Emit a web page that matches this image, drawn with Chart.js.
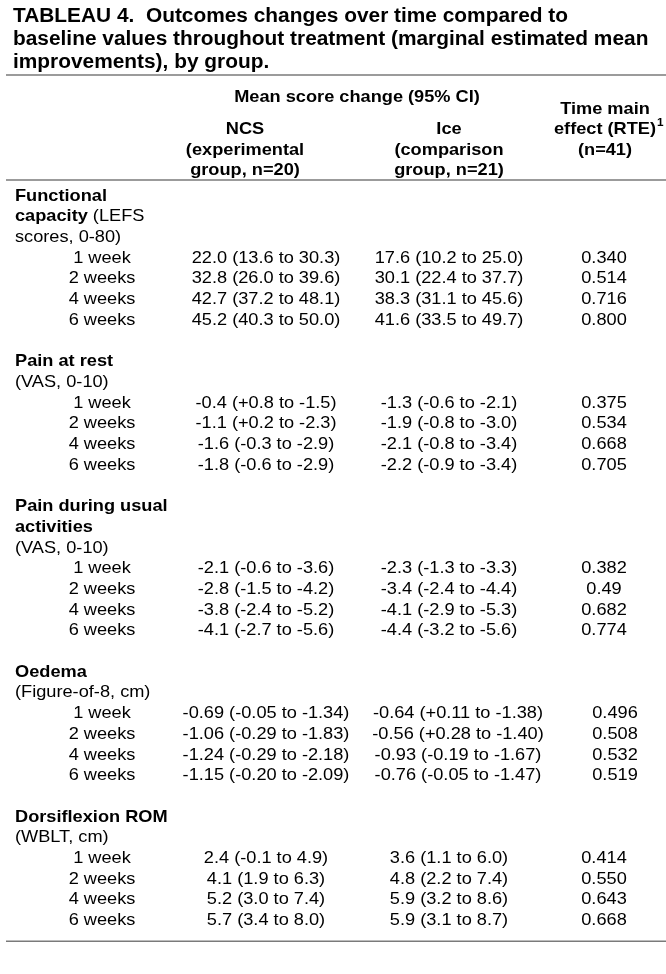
<!DOCTYPE html>
<html>
<head>
<meta charset="utf-8">
<title>Tableau 4</title>
<script src="https://cdn.jsdelivr.net/npm/chart.js@4.4.1/dist/chart.umd.min.js"></script>
<style>
  html, body { margin: 0; padding: 0; background: #fff; }
  #wrap { width: 666px; height: 974px; position: relative; }
</style>
</head>
<body>
<div id="wrap"><canvas id="tableChart"></canvas></div>
<script>
// ==========================
// Data (read off the table)
// ==========================
const timePoints = ["1 week", "2 weeks", "4 weeks", "6 weeks"];

// each outcome label line = [bold part, regular part]
const outcomeLabels = [
  [["Functional", ""], ["capacity", " (LEFS"], ["", "scores, 0-80)"]],
  [["Pain at rest", ""], ["", "(VAS, 0-10)"]],
  [["Pain during usual", ""], ["activities", ""], ["", "(VAS, 0-10)"]],
  [["Oedema", ""], ["", "(Figure-of-8, cm)"]],
  [["Dorsiflexion ROM", ""], ["", "(WBLT, cm)"]]
];

const ncsChange = [
  ["22.0 (13.6 to 30.3)", "32.8 (26.0 to 39.6)", "42.7 (37.2 to 48.1)", "45.2 (40.3 to 50.0)"],
  ["-0.4 (+0.8 to -1.5)", "-1.1 (+0.2 to -2.3)", "-1.6 (-0.3 to -2.9)", "-1.8 (-0.6 to -2.9)"],
  ["-2.1 (-0.6 to -3.6)", "-2.8 (-1.5 to -4.2)", "-3.8 (-2.4 to -5.2)", "-4.1 (-2.7 to -5.6)"],
  ["-0.69 (-0.05 to -1.34)", "-1.06 (-0.29 to -1.83)", "-1.24 (-0.29 to -2.18)", "-1.15 (-0.20 to -2.09)"],
  ["2.4 (-0.1 to 4.9)", "4.1 (1.9 to 6.3)", "5.2 (3.0 to 7.4)", "5.7 (3.4 to 8.0)"]
];

const iceChange = [
  ["17.6 (10.2 to 25.0)", "30.1 (22.4 to 37.7)", "38.3 (31.1 to 45.6)", "41.6 (33.5 to 49.7)"],
  ["-1.3 (-0.6 to -2.1)", "-1.9 (-0.8 to -3.0)", "-2.1 (-0.8 to -3.4)", "-2.2 (-0.9 to -3.4)"],
  ["-2.3 (-1.3 to -3.3)", "-3.4 (-2.4 to -4.4)", "-4.1 (-2.9 to -5.3)", "-4.4 (-3.2 to -5.6)"],
  ["-0.64 (+0.11 to -1.38)", "-0.56 (+0.28 to -1.40)", "-0.93 (-0.19 to -1.67)", "-0.76 (-0.05 to -1.47)"],
  ["3.6 (1.1 to 6.0)", "4.8 (2.2 to 7.4)", "5.9 (3.2 to 8.6)", "5.9 (3.1 to 8.7)"]
];

const timeEffect = [
  ["0.340", "0.514", "0.716", "0.800"],
  ["0.375", "0.534", "0.668", "0.705"],
  ["0.382", "0.49", "0.682", "0.774"],
  ["0.496", "0.508", "0.532", "0.519"],
  ["0.414", "0.550", "0.643", "0.668"]
];

const titleLines = [
  "TABLEAU 4.  Outcomes changes over time compared to",
  "baseline values throughout treatment (marginal estimated mean",
  "improvements), by group."
];

// ==========================
// Layout
// ==========================
const FONT = "'Liberation Sans', Arial, sans-serif";
const SX = 1.07;            // the scan is a bit wider than plain Arial
const COL = { label: 15, time: 102, ncs: 266, ice: 449, rte: 604 };
const oedemaShift = { ice: 9, rte: 11 };  // that block sits a little right

// build the line grid: label lines, 4 time rows, one blank line per outcome
const labelPts = [], timePts = [], ncsPts = [], icePts = [], rtePts = [];
let line = 0;
outcomeLabels.forEach((lines, o) => {
  lines.forEach(seg => { labelPts.push({ x: COL.label, y: line, seg: seg }); line++; });
  timePoints.forEach((t, k) => {
    const shift = o === 3 ? oedemaShift : { ice: 0, rte: 0 };
    timePts.push({ x: COL.time, y: line, txt: t });
    ncsPts.push({ x: COL.ncs, y: line, txt: ncsChange[o][k] });
    icePts.push({ x: COL.ice + shift.ice, y: line, txt: iceChange[o][k] });
    rtePts.push({ x: COL.rte + shift.rte, y: line, txt: timeEffect[o][k] });
    line++;
  });
  line++;
});
const lastLine = line - 2;

// ==========================
// Text helpers
// ==========================
function stretchText(ctx, txt, x, y, font, align) {
  ctx.save();
  ctx.font = font;
  let w = ctx.measureText(txt).width * SX;
  let left = align === "center" ? x - w / 2 : x;
  ctx.translate(left, y);
  ctx.scale(SX, 1);
  ctx.textAlign = "left";
  ctx.textBaseline = "middle";
  ctx.fillStyle = "#000";
  ctx.fillText(txt, 0, 0);
  ctx.restore();
  return w;
}

function rule(ctx, y) {
  ctx.save();
  ctx.strokeStyle = "#7a7a7a";
  ctx.lineWidth = 1.6;
  ctx.beginPath();
  ctx.moveTo(6, y);
  ctx.lineTo(666, y);
  ctx.stroke();
  ctx.restore();
}

const tablePlugin = {
  id: "tableText",
  afterDatasetsDraw(chart) {
    const ctx = chart.ctx;
    const yScale = chart.scales.y;
    const reg = "17px " + FONT;
    const bold = "bold 17px " + FONT;

    // title
    const tFont = "bold 19.5px " + FONT;
    titleLines.forEach((t, i) => stretchText(ctx, t, 13, 17 + i * 23, tFont, "left"));
    rule(ctx, 75);

    // header
    stretchText(ctx, "Mean score change (95% CI)", 357, 97, bold, "center");
    stretchText(ctx, "NCS", 245, 129, bold, "center");
    stretchText(ctx, "(experimental", 245, 150, bold, "center");
    stretchText(ctx, "group, n=20)", 245, 170, bold, "center");
    stretchText(ctx, "Ice", 449, 129, bold, "center");
    stretchText(ctx, "(comparison", 449, 150, bold, "center");
    stretchText(ctx, "group, n=21)", 449, 170, bold, "center");
    stretchText(ctx, "Time main", 605, 109, bold, "center");
    const ew = stretchText(ctx, "effect (RTE)", 605, 129, bold, "center");
    stretchText(ctx, "1", 605 + ew / 2 + 1, 123, "bold 11px " + FONT, "left");
    stretchText(ctx, "(n=41)", 605, 150, bold, "center");
    rule(ctx, 180);

    // cells, placed by the scatter points
    chart.data.datasets.forEach((ds, i) => {
      const meta = chart.getDatasetMeta(i);
      meta.data.forEach((pt, j) => {
        const d = ds.data[j];
        if (ds.kind === "label") {
          let x = pt.x;
          if (d.seg[0]) x += stretchText(ctx, d.seg[0], x, pt.y, bold, "left");
          if (d.seg[1]) stretchText(ctx, d.seg[1], x, pt.y, reg, "left");
        } else {
          stretchText(ctx, d.txt, pt.x, pt.y, reg, "center");
        }
      });
    });

    rule(ctx, yScale.getPixelForValue(lastLine + 1));
  }
};

// ==========================
// Chart
// ==========================
const pitch = 20.7;
const ctx = document.getElementById("tableChart").getContext("2d");
const tableChart = new Chart(ctx, {
  type: "scatter",
  data: {
    datasets: [
      { kind: "label", data: labelPts },
      { kind: "cell", data: timePts },
      { kind: "cell", data: ncsPts },
      { kind: "cell", data: icePts },
      { kind: "cell", data: rtePts }
    ]
  },
  options: {
    responsive: true,
    maintainAspectRatio: false,
    animation: false,
    events: [],
    elements: { point: { radius: 0, hoverRadius: 0 } },
    layout: {
      padding: { left: 0, right: 0, top: 196 - pitch / 2, bottom: 974 - (196 + (lastLine + 0.5) * pitch) }
    },
    scales: {
      x: { type: "linear", min: 0, max: 666, display: false },
      y: { type: "linear", min: -0.5, max: lastLine + 0.5, reverse: true, display: false }
    },
    plugins: { legend: { display: false }, tooltip: { enabled: false }, title: { display: false } }
  },
  plugins: [tablePlugin]
});
</script>
</body>
</html>
